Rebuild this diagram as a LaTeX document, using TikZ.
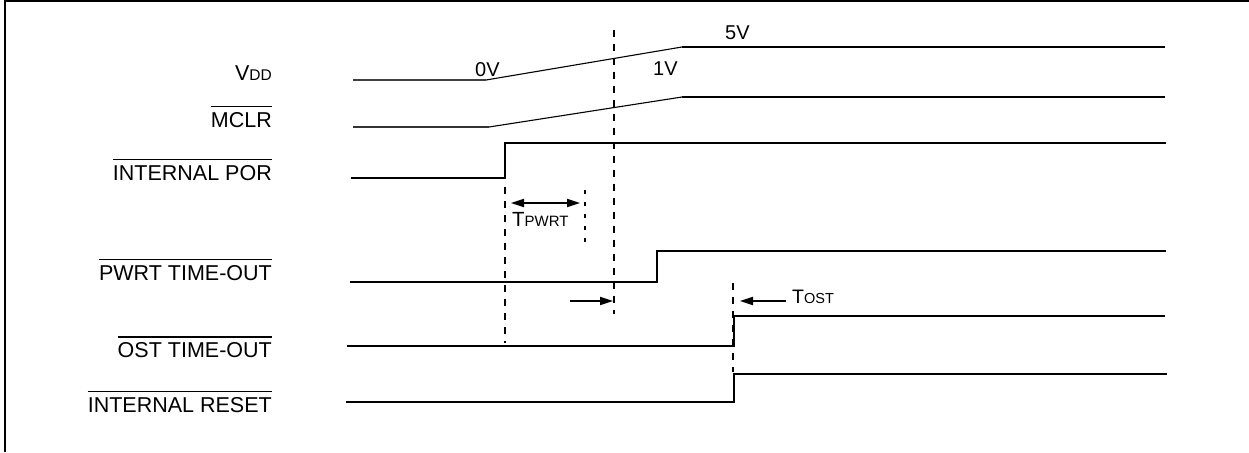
\documentclass[tikz,border=0pt]{standalone}
\usepackage{fontspec}
\setmainfont{Liberation Sans}
\usetikzlibrary{arrows.meta}
\begin{document}
\begin{tikzpicture}[x=1pt,y=-1pt,
  lbl/.style={anchor=base east,inner sep=0pt,font=\fontsize{21.5}{24}\selectfont},
  val/.style={anchor=base west,inner sep=0pt,font=\fontsize{20}{22}\selectfont},
  sigline/.style={line width=1.9pt,line join=miter},
  thinsig/.style={line width=1.1pt},
  ovl/.style={line width=1.6pt},
  dashv/.style={line width=1.6pt,dash pattern=on 7pt off 7pt},
  dotv/.style={line width=1.6pt,dash pattern=on 4pt off 8pt},
  tarrow/.style={line width=1.8pt,-{Triangle[length=13pt,width=8pt]}},
  tdarrow/.style={line width=1.8pt,{Triangle[length=13pt,width=8pt]}-{Triangle[length=13pt,width=8pt]}}
]
\useasboundingbox (0,0) rectangle (1249,452);
% frame (top and left only)
\draw[line width=2pt] (1249,1) -- (5,1) -- (5,452);

% labels
\node[lbl] (vdd) at (272,80) {V{\fontsize{15.5}{18}\selectfont DD}};
\node[lbl] (mclr) at (272,127) {MCLR};
\node[lbl] (por) at (272,180) {INTERNAL POR};
\node[lbl] (pwrt) at (272,280) {PWRT TIME-OUT};
\node[lbl] (ost) at (272,357.5) {OST TIME-OUT};
\node[lbl] (rst) at (272,412) {INTERNAL RESET};
\foreach \n in {mclr,por,pwrt,ost,rst}
  \draw[ovl] ([yshift=20.5pt]\n.base west) -- ([yshift=20.5pt]\n.base east);

% voltage values
\node[val] (v0) at (475,77) {0V};
\node[val] (v1) at (653,75) {1V};
\node[val] (v5) at (725,40) {5V};

% VDD
\draw[thinsig,black!75] (353,80) -- (486,80);
\draw[thinsig] (486,80) -- (682,47);
\draw[sigline] (682,47) -- (1165,47);
% MCLR
\draw[thinsig,black!80] (353,127) -- (489,127);
\draw[thinsig] (489,127) -- (682,97);
\draw[sigline] (682,97) -- (1165,97);
% INTERNAL POR
\draw[sigline] (351,178) -- (505,178) -- (505,143) -- (1166,143);
% PWRT TIME-OUT
\draw[sigline] (350,282) -- (657,282) -- (657,251) -- (1166,251);
% OST TIME-OUT
\draw[sigline] (347,346) -- (734,346) -- (734,316) -- (1165,316);
% INTERNAL RESET
\draw[sigline] (346,402) -- (734,402) -- (734,374) -- (1167,374);

% dashed markers
\draw[dashv] (614,30) -- (614,314);
\draw[dashv] (505,187) -- (505,343);
\draw[dotv] (585,190) -- (585,242);
\draw[dashv] (733,283) -- (733,372);

% TPWRT
\coordinate (pa) at (511,203);
\coordinate (pb) at (580,203);
\draw[tdarrow] (pa) -- (pb);
\node[anchor=base west,inner sep=0pt,font=\fontsize{20.5}{24}\selectfont] (tpwrt) at (512,226.5) {T{\fontsize{15}{17}\selectfont PWRT}};

% arrow into dashed line
\coordinate (ra) at (570,301);
\coordinate (rb) at (613,301);
\draw[tarrow] (ra) -- (rb);

% TOST
\coordinate (oa) at (786,301);
\coordinate (ob) at (740,301);
\draw[tarrow] (oa) -- (ob);
\node[anchor=base west,inner sep=0pt,font=\fontsize{19.5}{23}\selectfont] (tost) at (792,303) {T{\fontsize{14.5}{17}\selectfont OST}};
\end{tikzpicture}
\end{document}
